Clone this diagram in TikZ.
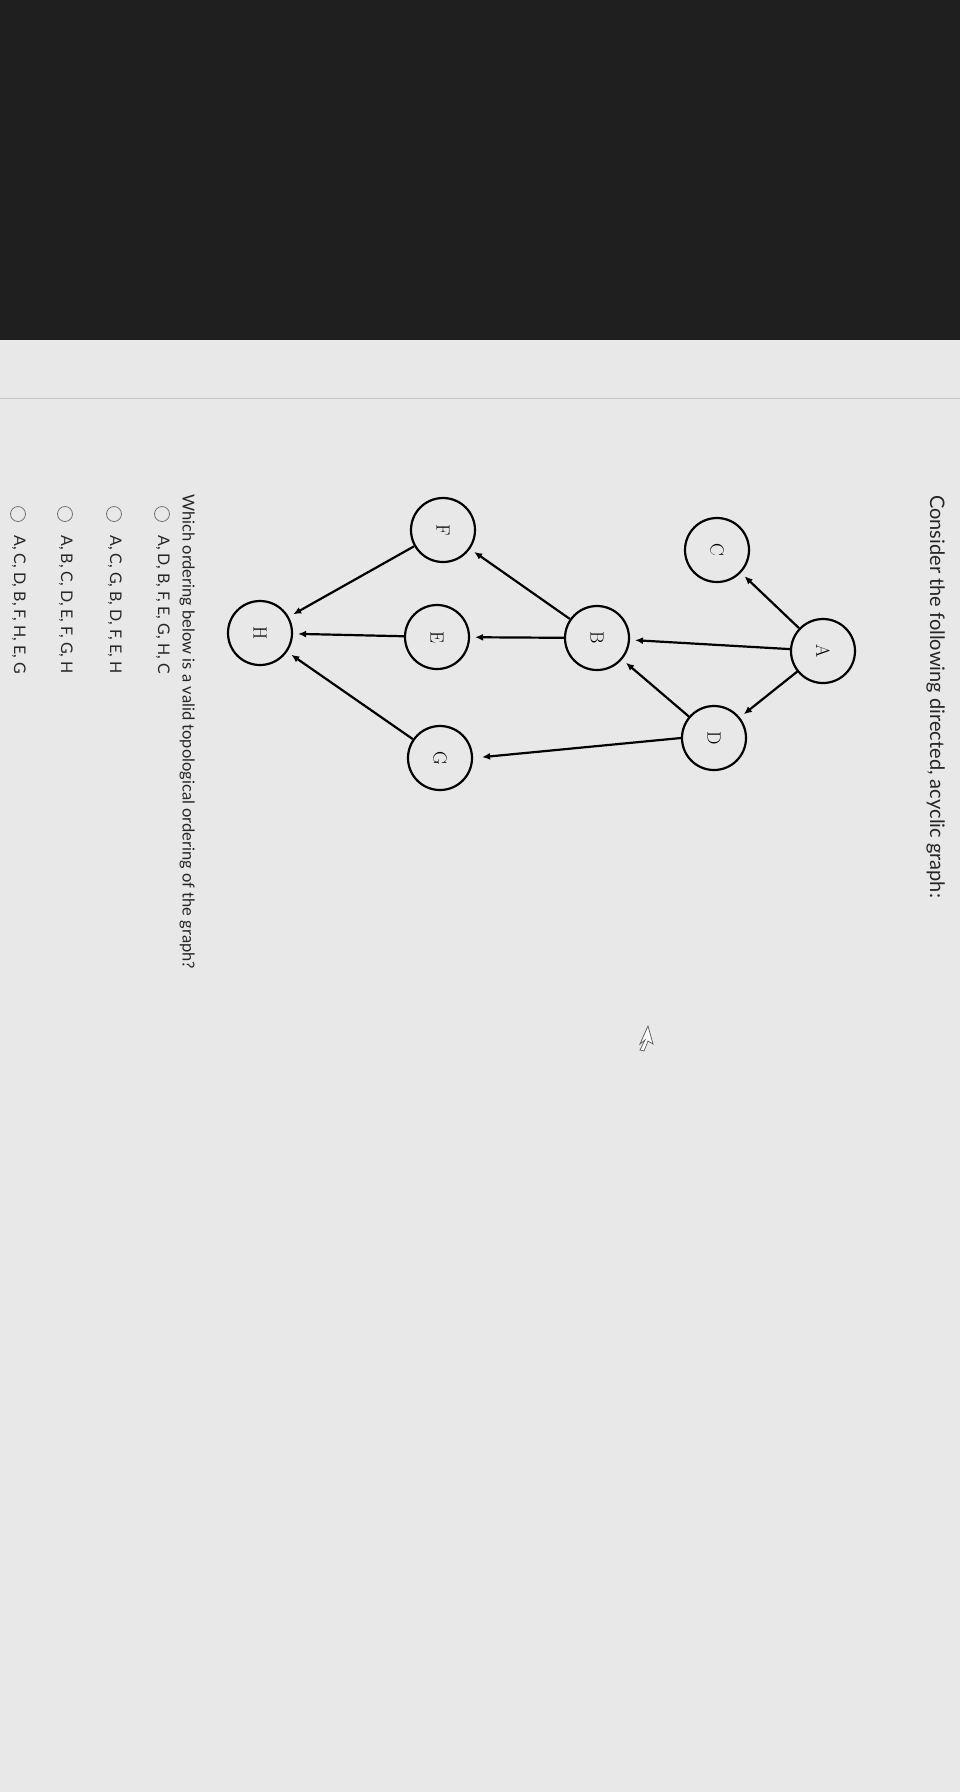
\documentclass[tikz,border=0pt]{standalone}
\usepackage{fontspec}
\setsansfont{Lato}
\usetikzlibrary{arrows.meta}
\begin{document}
\begin{tikzpicture}[x=1pt,y=-1pt,
  vtx/.style={circle,draw,line width=2.2pt,minimum size=64pt,inner sep=0pt,font=\fontsize{19}{19}\selectfont\rmfamily,rotate=-90},
  edge/.style={line width=2.2pt,-{Latex[length=8pt,width=7pt]},shorten >=5pt},
  txt/.style={font=\sffamily,rotate=-90,anchor=north west,text=black!85,inner sep=0pt},
  opt/.style={circle,draw=black!55,line width=0.8pt,minimum size=15pt,inner sep=0pt}]
\useasboundingbox (0,0) rectangle (960,1792);
\fill[black!88] (0,0) rectangle (960,340);
\fill[gray!18] (0,340) rectangle (960,1792);
\draw[gray!45,line width=0.8pt] (0,398) -- (960,398);
\node[vtx] (A) at (823,651) {A};
\node[vtx] (C) at (717,550) {C};
\node[vtx] (D) at (714,738) {D};
\node[vtx] (B) at (597,638) {B};
\node[vtx] (F) at (443,530) {F};
\node[vtx] (E) at (437,637) {E};
\node[vtx] (G) at (440,758) {G};
\node[vtx] (H) at (260,633) {H};
\draw[edge] (A) -- (C);
\draw[edge] (A) -- (D);
\draw[edge] (A) -- (B);
\draw[edge] (D) -- (B);
\draw[edge,shorten >=9pt] (D.south) -- (G.north);
\draw[edge] (B) -- (F);
\draw[edge] (B) -- (E);
\draw[edge] (E) -- (H);
\draw[edge] (F) -- (H);
\draw[edge] (G) -- (H);
\node[txt,font=\sffamily\fontsize{20}{20}\selectfont] (t1) at (945,495) {Consider the following directed, acyclic graph:};
\node[txt,font=\sffamily\fontsize{16.5}{16.5}\selectfont] (t2) at (195,494) {Which ordering below is a valid topological ordering of the graph?};
\foreach \x/\s [count=\i] in {162/{A, D, B, F, E, G, H, C},114/{A, C, G, B, D, F, E, H},65/{A, B, C, D, E, F, G, H},18/{A, C, D, B, F, H, E, G}}{
  \node[opt] (o\i) at (\x,514) {};
  \node[txt,font=\sffamily\fontsize{16}{16}\selectfont] (l\i) at (\x+8,535) {\s};
}
\draw[black!60,line width=0.8pt,fill=white] (648,1026) -- (640,1044) -- (645,1040) -- (640,1050) -- (644,1051) -- (648,1041) -- (653,1044) -- cycle;
\end{tikzpicture}
\end{document}
